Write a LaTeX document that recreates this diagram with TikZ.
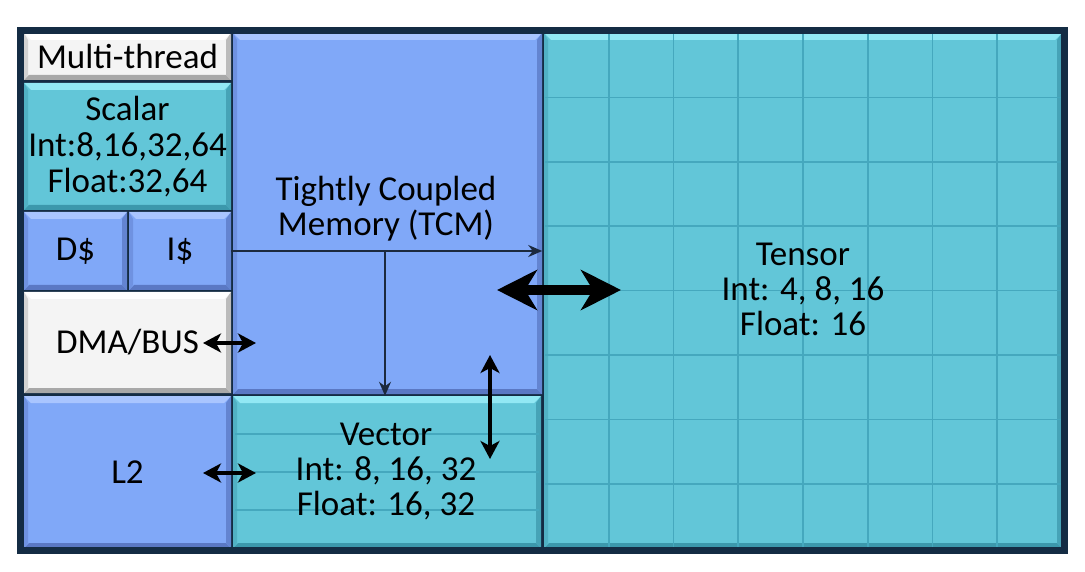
\documentclass[tikz,border=0pt]{standalone}
\usepackage{fontspec}
\setmainfont{Carlito}
\usetikzlibrary{arrows.meta}
\definecolor{frame}{HTML}{142C44}
\definecolor{bl}{HTML}{80A8F8}
\definecolor{blhi}{HTML}{A9C5FF}
\definecolor{bllo}{HTML}{5A78C4}
\definecolor{cy}{HTML}{62C6D8}
\definecolor{cyhi}{HTML}{92E8F4}
\definecolor{cylo}{HTML}{3C98AC}
\definecolor{wh}{HTML}{F4F4F4}
\definecolor{whhi}{HTML}{FFFFFF}
\definecolor{whlo}{HTML}{A8A8A8}
\definecolor{gridc}{HTML}{45A8BE}
\definecolor{thinc}{HTML}{1C2A3E}
\tikzset{
  bev/.style n args={3}{fill=#1, draw=none, inner sep=0pt, anchor=center,
    font=\fontsize{35}{36}\selectfont, align=center, text=black,
    path picture={
      \fill[#2] (path picture bounding box.north west) -- (path picture bounding box.north east)
        -- ([shift={(-7pt,-7pt)}]path picture bounding box.north east)
        -- ([shift={(7pt,-7pt)}]path picture bounding box.north west) -- cycle;
      \fill[#3] (path picture bounding box.south west) -- (path picture bounding box.south east)
        -- ([shift={(-5pt,5pt)}]path picture bounding box.south east)
        -- ([shift={(5pt,5pt)}]path picture bounding box.south west) -- cycle;
      \fill[#3!75!#1] (path picture bounding box.north east) -- (path picture bounding box.south east)
        -- ([shift={(-5pt,5pt)}]path picture bounding box.south east)
        -- ([shift={(-5pt,-7pt)}]path picture bounding box.north east) -- cycle;
      \fill[#3!45!#1] (path picture bounding box.north west) -- (path picture bounding box.south west)
        -- ([shift={(4pt,5pt)}]path picture bounding box.south west)
        -- ([shift={(4pt,-7pt)}]path picture bounding box.north west) -- cycle;
    }},
  bluebox/.style={bev={bl}{blhi}{bllo}},
  cyanbox/.style={bev={cy}{cyhi}{cylo}},
  whitebox/.style={bev={wh}{whhi}{whlo}},
  lbl/.style={font=\fontsize{35}{35}\selectfont, align=center, text=black, inner sep=0pt},
  thinarrow/.style={draw=thinc, line width=1.8pt, -{Stealth[length=14pt,width=12pt]}},
  midarrow/.style={draw=black, line width=4.5pt, {Stealth[length=18pt,width=19pt,inset=5pt]}-{Stealth[length=18pt,width=19pt,inset=5pt]}},
  bigarrow/.style={draw=black, line width=10pt, {Stealth[length=40pt,width=40pt,inset=12pt]}-{Stealth[length=40pt,width=40pt,inset=12pt]}},
}
\begin{document}
\begin{tikzpicture}[x=1pt,y=-1pt]
\useasboundingbox (0,0) rectangle (1085,572);
% frame background
\fill[frame] (17,27) rectangle (1068,554);
% left column
\node[whitebox, minimum width=207pt, minimum height=47pt] (mt) at (127.5,56.5) {Multi-thread};
\node[cyanbox, minimum width=207pt, minimum height=127pt] (scalar) at (127.5,146.5) {Scalar\\Int:8,16,32,64\\Float:32,64};
\node[bluebox, minimum width=103pt, minimum height=78pt] (ds) at (75.5,251) {D\$};
\node[bluebox, minimum width=102pt, minimum height=78pt] (is) at (180,251) {I\$};
\node[whitebox, minimum width=207pt, minimum height=101pt] (dma) at (127.5,342.5) {DMA/BUS};
\node[bluebox, minimum width=207pt, minimum height=152pt] (l2) at (127.5,472) {L2};
% TCM
\node[bluebox, minimum width=309pt, minimum height=361pt] (tcm) at (387.5,213.5) {};
\node[lbl] (tcmlbl) at (386,208.5) {Tightly Coupled\\Memory (TCM)};
% vector
\node[cyanbox, minimum width=308pt, minimum height=152pt] (vec) at (387,472) {};
\foreach \yy in {434,472,510} \draw[gridc, line width=1.5pt] (235,\yy) -- (539,\yy);
\node[lbl] (veclbl) at (386,472) {Vector\\Int: 8, 16, 32\\Float: 16, 32};
% tensor
\node[cyanbox, minimum width=518pt, minimum height=515pt] (tensor) at (803,290.5) {};
\foreach \i in {1,...,7} {
  \draw[gridc, line width=1.6pt] ({544+64.75*\i},34) -- ({544+64.75*\i},547);
  \draw[gridc, line width=1.6pt] (545,{33+64.4*\i}) -- (1061,{33+64.4*\i});
}
\node[lbl] (tensorlbl) at (803,289) {Tensor\\Int: 4, 8, 16\\Float: 16};
% outer frame
\draw[frame, line width=7pt] (20.5,30.5) rectangle (1064.5,550.5);
% connectors
\coordinate (split) at (385,251);
\draw[thinarrow] (is.east) -- (is.east -| tcm.east);
\draw[thinarrow] (split) -- (split |- vec.north);
\coordinate (bigL) at (497,290);
\coordinate (bigR) at (621,290);
\draw[bigarrow] (bigL) -- (bigR);
\coordinate (vT) at (490,355);
\coordinate (vB) at (490,459);
\draw[midarrow] (vT) -- (vB);
\coordinate (dmaL) at (203,343);
\coordinate (dmaR) at (256,343);
\draw[midarrow] (dmaL) -- (dmaR);
\coordinate (l2L) at (203,473);
\coordinate (l2R) at (256,473);
\draw[midarrow] (l2L) -- (l2R);
\end{tikzpicture}
\end{document}
